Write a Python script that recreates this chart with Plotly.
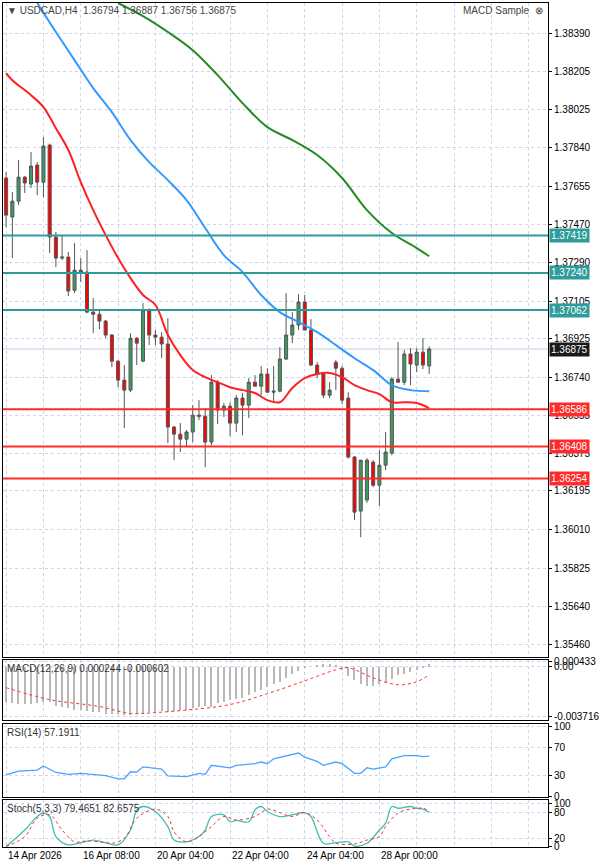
import plotly.graph_objects as go
from plotly.subplots import make_subplots

# H4 candles, bar index 0..68
opens = [1.37695, 1.37508, 1.37584, 1.37699, 1.37666, 1.37757, 1.37675, 1.37853, 1.37412, 1.37311,
         1.37316, 1.37157, 1.37253, 1.37244, 1.37052, 1.37042, 1.37009, 1.36942, 1.36817, 1.36726,
         1.36678, 1.36927, 1.36817, 1.37062, 1.36942, 1.36932, 1.36899, 1.36501, 1.36467, 1.36443,
         1.36477, 1.36558, 1.36553, 1.36429, 1.36716, 1.36582, 1.36601, 1.36520, 1.36640, 1.36606,
         1.36716, 1.36697, 1.36755, 1.36668, 1.36673, 1.36827, 1.36942, 1.36990, 1.37100, 1.36966,
         1.36798, 1.36755, 1.36654, 1.36812, 1.36783, 1.36640, 1.36357, 1.36098, 1.36151, 1.36333,
         1.36222, 1.36318, 1.36376, 1.36731, 1.36716, 1.36851, 1.36798, 1.36860, 1.36794]
highs = [1.37723, 1.37627, 1.37781, 1.37705, 1.37819, 1.37771, 1.37891, 1.37860, 1.37436, 1.37421,
         1.37340, 1.37383, 1.37311, 1.37349, 1.37119, 1.37062, 1.37014, 1.36947, 1.36822, 1.36798,
         1.36951, 1.36932, 1.37095, 1.37071, 1.36966, 1.36956, 1.37023, 1.36506, 1.36520, 1.36486,
         1.36606, 1.36630, 1.36592, 1.36750, 1.36726, 1.36616, 1.36620, 1.36654, 1.36664, 1.36736,
         1.36750, 1.36793, 1.36783, 1.36793, 1.36884, 1.37143, 1.37052, 1.37138, 1.37134, 1.37018,
         1.36812, 1.36760, 1.36716, 1.36822, 1.36793, 1.36668, 1.36362, 1.36342, 1.36352, 1.36342,
         1.36390, 1.36477, 1.36740, 1.36908, 1.36870, 1.36879, 1.36879, 1.36927, 1.36887]
lows = [1.37460, 1.37311, 1.37565, 1.37623, 1.37647, 1.37613, 1.37603, 1.37335, 1.37268, 1.37301,
        1.37129, 1.37143, 1.37196, 1.37047, 1.36951, 1.36970, 1.36927, 1.36788, 1.36692, 1.36496,
        1.36668, 1.36798, 1.36812, 1.36894, 1.36894, 1.36831, 1.36424, 1.36342, 1.36381, 1.36405,
        1.36429, 1.36534, 1.36309, 1.36414, 1.36515, 1.36549, 1.36457, 1.36477, 1.36462, 1.36544,
        1.36697, 1.36654, 1.36668, 1.36616, 1.36668, 1.36822, 1.36903, 1.36966, 1.36966, 1.36793,
        1.36736, 1.36640, 1.36640, 1.36678, 1.36611, 1.36350, 1.36055, 1.35973, 1.36137, 1.36213,
        1.36122, 1.36294, 1.36366, 1.36716, 1.36702, 1.36702, 1.36764, 1.36779, 1.36756]
closes = [1.37517, 1.37584, 1.37699, 1.37671, 1.37752, 1.37675, 1.37848, 1.37412, 1.37311, 1.37316,
          1.37153, 1.37253, 1.37244, 1.37052, 1.37042, 1.37009, 1.36942, 1.36817, 1.36726, 1.36678,
          1.36927, 1.36903, 1.37062, 1.36942, 1.36932, 1.36899, 1.36501, 1.36467, 1.36443, 1.36477,
          1.36558, 1.36553, 1.36429, 1.36716, 1.36582, 1.36601, 1.36520, 1.36640, 1.36606, 1.36716,
          1.36697, 1.36755, 1.36668, 1.36673, 1.36827, 1.36942, 1.36990, 1.37100, 1.36966, 1.36798,
          1.36755, 1.36654, 1.36678, 1.36783, 1.36630, 1.36357, 1.36093, 1.36342, 1.36342, 1.36222,
          1.36318, 1.36381, 1.36731, 1.36716, 1.36851, 1.36803, 1.36860, 1.36798, 1.36875]

# moving averages (sampled at bar indices)
ma_red_idx = [0, 1, 4, 6, 8, 10, 12, 14, 16, 18, 20, 22, 24, 26, 28, 30, 32, 34, 36, 38, 40, 42, 44,
              46, 48, 50, 52, 54, 56, 58, 60, 62, 64, 66, 68]
ma_red = [1.38198, 1.38164, 1.38092, 1.38035, 1.37934, 1.37829, 1.37675, 1.37541, 1.37421, 1.37311,
          1.37215, 1.37134, 1.37086, 1.36942, 1.36846, 1.36774, 1.36740, 1.36716, 1.36692, 1.36678,
          1.36664, 1.36630, 1.36620, 1.36688, 1.36735, 1.36755, 1.36760, 1.36740, 1.36702, 1.36678,
          1.36659, 1.36620, 1.36620, 1.36616, 1.36592]
ma_blue_idx = [5, 8, 11, 14, 17, 20, 23, 26, 29, 32, 35, 38, 41, 44, 47, 50, 53, 56, 59, 62, 65, 68]
ma_blue = [1.38534, 1.38395, 1.38260, 1.38126, 1.38011, 1.37877, 1.37771, 1.37685, 1.37589, 1.37455,
           1.37325, 1.37244, 1.37134, 1.37052, 1.37004, 1.36956, 1.36894, 1.36831, 1.36774, 1.36702,
           1.36678, 1.36673]
ma_green_idx = [18, 22, 26, 30, 34, 38, 42, 46, 50, 54, 58, 62, 66, 68]
ma_green = [1.38534, 1.38471, 1.38395, 1.38308, 1.38188, 1.38054, 1.37939, 1.37877, 1.37805, 1.37695,
            1.37541, 1.37431, 1.37359, 1.37320]

levels_teal = [1.37419, 1.37240, 1.37062]
levels_red = [1.36586, 1.36408, 1.36254]
last_price = 1.36875

price_ticks = [1.38390, 1.38205, 1.38025, 1.37840, 1.37655, 1.37470, 1.37290, 1.37105, 1.36925,
               1.36740, 1.36555, 1.36375, 1.36195, 1.36010, 1.35825, 1.35640, 1.35460]

macd_hist = [-0.0026, -0.0027, -0.0028, -0.0028, -0.0028, -0.0027, -0.0026, -0.0026, -0.0029, -0.0030,
             -0.0031, -0.0032, -0.0032, -0.0033, -0.0034, -0.0034, -0.0035, -0.0035,
             -0.0035, -0.0036, -0.0036, -0.0035, -0.0035, -0.0034, -0.0034,
             -0.0033, -0.0034, -0.0033, -0.0032, -0.0032, -0.0031, -0.0030, -0.0029, -0.0030,
             -0.0027, -0.0026, -0.0025, -0.0024, -0.0023, -0.0021,
             -0.0019, -0.0017, -0.0015, -0.0013, -0.0011, -0.0008, -0.0005,
             -0.0003, -0.0001, 0.0000, 0.0001, 0.0002, 0.0002, 0.0001,
             -0.0002, -0.0007, -0.0010, -0.0013, -0.0014, -0.0014, -0.0013, -0.0012,
             -0.0009, -0.0006, -0.0005, -0.0004, -0.0002, -0.0001, 0.0002]
macd_sig_idx = [0, 7, 15, 20, 24, 30, 36, 42, 48, 53, 55, 59, 63, 66, 68]
macd_sig = [-0.00156, -0.00245, -0.00297, -0.00349, -0.00342, -0.00319, -0.00282, -0.00201, -0.00104,
            -0.00022, -0.00007, -0.00082, -0.00134, -0.00111, -0.00060]

rsi_idx = [0, 2, 5, 6, 8, 10, 12, 14, 16, 18, 19, 20, 21, 22, 24, 25, 26, 29, 31, 32, 33, 35, 36, 37,
           40, 41, 42, 43, 46, 47, 48, 50, 51, 53, 54, 56, 57, 58, 59, 61, 62, 64, 66, 67, 68]
rsi = [30.4, 36, 37.3, 43.3, 34, 31.4, 32.8, 31.4, 29.5, 25, 25, 35, 34.5, 42, 39.7, 38.7, 29, 28,
       32.8, 31.4, 44.2, 42, 40.6, 44.2, 46.5, 48.9, 46.5, 53.4, 59, 61.7, 55.7, 49.8, 44.2, 48.9,
       46.5, 32.8, 32.8, 40.6, 38.7, 42, 53.4, 58, 58, 56.5, 57.2]

stoch_idx = [0, 3, 5, 6, 7, 8, 10, 12, 14, 16, 18, 20, 21, 22, 24, 26, 27, 29, 31, 32, 33, 35, 36, 37,
             39, 40, 41, 42, 44, 46, 48, 49, 51, 53, 55, 56, 58, 60, 61, 62, 63, 65, 66, 67, 68]
stoch_k = [1, 39, 70, 78, 70, 24, 5, 10, 16, 10, 5, 39, 85, 93, 81.5, 47, 16, 12, 24, 39, 70, 74, 58,
           61, 58, 85, 93, 81.5, 70, 74, 79, 70, 8.5, 10, 12, 2, 8.5, 39, 55, 93, 89, 93, 89, 87, 79.5]
stoch_sig_idx = [0, 3, 5, 7, 9, 11, 13, 16, 17, 19, 21, 24, 26, 27, 29, 31, 33, 35, 37, 40, 42, 44,
                 46, 48, 50, 52, 53, 56, 58, 60, 61, 63, 65, 67, 68]
stoch_d = [1, 24, 66, 74, 39, 12, 14, 10, 8.5, 20, 66, 87, 70, 35, 12, 24, 47, 70, 62, 70, 87, 79, 70,
           79, 62, 24, 8.5, 7, 16, 24, 47, 78, 87, 89, 82.7]

label_idx = [0, 12, 24, 36, 48, 60]
label_text = ['14 Apr 2026', '16 Apr 08:00', '20 Apr 04:00', '22 Apr 04:00', '24 Apr 04:00',
              '28 Apr 00:00']

bars = list(range(len(opens)))
FONT = 'Liberation Sans'
GRID = '#c9d6ee'

fig = make_subplots(rows=4, cols=1, shared_xaxes=True)

fig.add_trace(go.Candlestick(
    x=bars, open=opens, high=highs, low=lows, close=closes,
    increasing=dict(fillcolor='#3d9a62', line=dict(color='#555555', width=1)),
    decreasing=dict(fillcolor='#ff0000', line=dict(color='#555555', width=1)),
    whiskerwidth=0, showlegend=False), row=1, col=1)
fig.add_trace(go.Scatter(x=ma_red_idx, y=ma_red, mode='lines', line=dict(color='#ff2020', width=2, shape='spline'),
                         showlegend=False), row=1, col=1)
fig.add_trace(go.Scatter(x=ma_blue_idx, y=ma_blue, mode='lines', line=dict(color='#3399ff', width=2, shape='spline'),
                         showlegend=False), row=1, col=1)
fig.add_trace(go.Scatter(x=ma_green_idx, y=ma_green, mode='lines', line=dict(color='#228b22', width=2, shape='spline'),
                         showlegend=False), row=1, col=1)

fig.add_trace(go.Bar(x=bars, y=macd_hist, width=0.18, marker=dict(color='#b8b8b8', line=dict(width=0)),
                     showlegend=False), row=2, col=1)
fig.add_trace(go.Scatter(x=macd_sig_idx, y=macd_sig, mode='lines',
                         line=dict(color='#ff3030', width=1, dash='dot', shape='spline'), showlegend=False), row=2, col=1)

fig.add_trace(go.Scatter(x=rsi_idx, y=rsi, mode='lines', line=dict(color='#4aa3ff', width=1.3),
                         showlegend=False), row=3, col=1)

fig.add_trace(go.Scatter(x=stoch_idx, y=stoch_k, mode='lines', line=dict(color='#40c0b0', width=1.3, shape='spline'),
                         showlegend=False), row=4, col=1)
fig.add_trace(go.Scatter(x=stoch_sig_idx, y=stoch_d, mode='lines',
                         line=dict(color='#ff3030', width=1, dash='dot', shape='spline'), showlegend=False), row=4, col=1)

# horizontal levels
for lv in levels_teal:
    fig.add_shape(type='line', xref='x domain', yref='y', x0=0, x1=1, y0=lv, y1=lv,
                  line=dict(color='#2e9c9a', width=2))
for lv in levels_red:
    fig.add_shape(type='line', xref='x domain', yref='y', x0=0, x1=1, y0=lv, y1=lv,
                  line=dict(color='#ff2a2a', width=2))
fig.add_shape(type='line', xref='x domain', yref='y', x0=0, x1=1, y0=last_price, y1=last_price,
              line=dict(color='#c4cedf', width=1), layer='below')

# price tags on the right scale
for lv, bg in [(v, '#2e9c9a') for v in levels_teal] + [(v, '#ff2a2a') for v in levels_red] + [(last_price, '#1a1a1a')]:
    fig.add_annotation(xref='paper', x=1.0, yref='y', y=lv, text='%.5f' % lv, showarrow=False,
                       xanchor='left', xshift=1, bgcolor=bg, font=dict(color='white', size=10, family=FONT),
                       borderpad=1)

axis_common = dict(showline=True, linecolor='black', linewidth=1, mirror=True, ticks='outside',
                   ticklen=3, tickcolor='black', showgrid=True, gridcolor=GRID, griddash='dot',
                   zeroline=False, automargin=False, tickfont=dict(size=10, family=FONT, color='black'))

xgrid = list(range(0, 90, 6))
for r in range(1, 5):
    fig.update_xaxes(range=[-0.5, 87.1], tickvals=xgrid, showticklabels=False, ticks='',
                     showline=True, linecolor='black', mirror=True, showgrid=True, gridcolor=GRID,
                     griddash='dot', zeroline=False, automargin=False, row=r, col=1)
fig.update_xaxes(rangeslider_visible=False, row=1, col=1)

fig.update_yaxes(side='right', range=[1.35398, 1.38534], domain=[0.225, 1.0], tickvals=price_ticks,
                 ticktext=['%.5f' % v for v in price_ticks], **axis_common, row=1, col=1)
fig.update_yaxes(side='right', range=[-0.00401, 0.00052], domain=[0.150, 0.2216],
                 tickvals=[0.000433, 0.0, -0.003716], ticktext=['0.000433', '0.00', '-0.003716'],
                 **axis_common, row=2, col=1)
fig.update_yaxes(side='right', range=[-1, 103], domain=[0.0592, 0.1457],
                 tickvals=[100, 70, 30, 0], **axis_common, row=3, col=1)
fig.update_yaxes(side='right', range=[0, 108], domain=[0, 0.0557],
                 tickvals=[100, 80, 20, 0], **axis_common, row=4, col=1)

# time labels under the bottom panel
for i, t in zip(label_idx, label_text):
    fig.add_annotation(x=i, xref='x4', y=0, yref='paper', yanchor='top', xanchor='left', yshift=-1,
                       text=t, showarrow=False, font=dict(size=10, family=FONT, color='black'))

# panel captions
fig.add_annotation(xref='paper', yref='paper', x=0.003, y=0.9995, xanchor='left', yanchor='top',
                   text='▼ USDCAD,H4  1.36794 1.36887 1.36756 1.36875', showarrow=False,
                   font=dict(size=10, family=FONT, color='#444444'))
fig.add_annotation(xref='paper', yref='paper', x=0.995, y=0.9995, xanchor='right', yanchor='top',
                   text='MACD Sample  ⊗', showarrow=False, font=dict(size=10, family=FONT, color='#444444'))
for txt, ytop in [('MACD(12,26,9) 0.000244 -0.000602', 0.2216), ('RSI(14) 57.1911', 0.1457),
                  ('Stoch(5,3,3) 79.4651 82.6575', 0.0557)]:
    fig.add_annotation(xref='paper', yref='paper', x=0.003, y=ytop - 0.001, xanchor='left', yanchor='top',
                       text=txt, showarrow=False, font=dict(size=10, family=FONT, color='#333333'))

fig.update_layout(width=600, height=863, margin=dict(l=3, r=52, t=3, b=16, autoexpand=False),
                  paper_bgcolor='white', plot_bgcolor='white', bargap=0, showlegend=False,
                  font=dict(family=FONT))

# drop the browser's default page margin so the figure sits at the window corner
fig.write_html('out.html', config={'displayModeBar': False},
               post_script="document.body.style.margin='0';")
